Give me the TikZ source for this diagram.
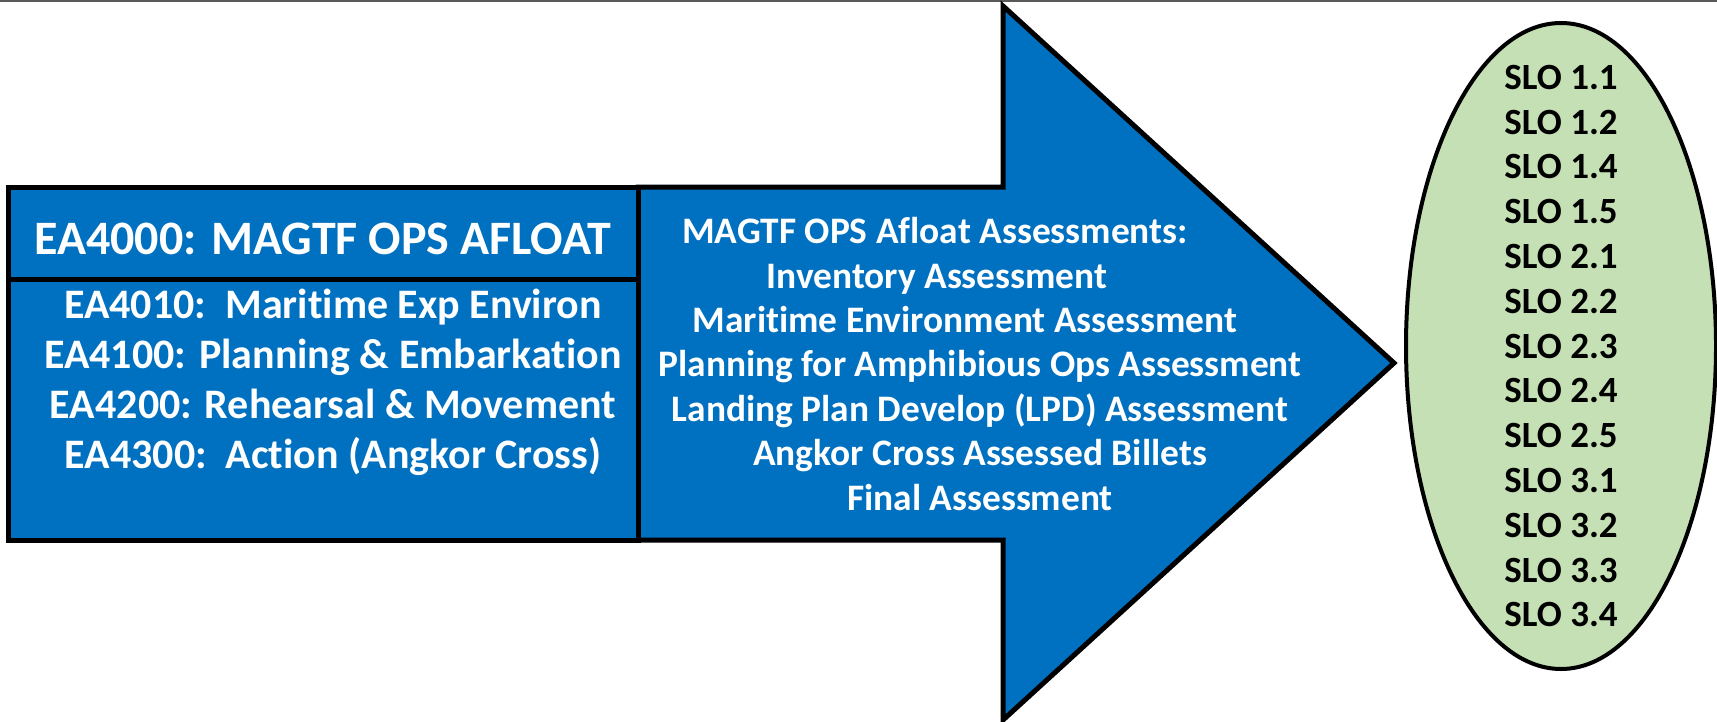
\documentclass[tikz,border=0pt]{standalone}
\usepackage{fontspec}
\setmainfont{Carlito}[Ligatures=NoCommon]
\usetikzlibrary{shapes.geometric}
\definecolor{slideblue}{HTML}{0070C0}
\definecolor{slogreen}{HTML}{C5E0B4}
\tikzset{
	blockframe/.style={draw=black, line width=2.5pt, fill=slideblue, line join=miter},
	whitetext/.style={text=white, align=center, inner sep=0pt},
}
\newcommand{\padright}[2]{\makebox[\dimexpr\width+#1\relax][l]{#2}}

\begin{document}
\begin{tikzpicture}[x=0.5pt, y=-0.5pt]
	\useasboundingbox (0, 0) rectangle (1717, 722);
	\draw[gray!70!black, line width=1pt] (0, 1) -- (1717, 1);
	% big arrow
	\draw[blockframe] (638, 187) -- (1003, 187) -- (1003, 6) -- (1394, 363) -- (1003, 720) -- (1003, 540) -- (638, 540) -- cycle;
	% course box
	\draw[blockframe] (8, 279) rectangle (638, 540);
	\draw[blockframe] (8, 187) rectangle (638, 279);
	\node[whitetext, font=\bfseries\fontsize{24}{28}\selectfont] (course) at (323, 239) {EA4000: MAGTF OPS AFLOAT};
	\node[whitetext, font=\bfseries\fontsize{21}{25}\selectfont] (units) at (333, 382) {EA4010:\ \ Maritime Exp Environ\\EA4100: Planning \& Embarkation\\EA4200: Rehearsal \& Movement\\EA4300:\ \ Action (Angkor Cross)};
	\node[whitetext, font=\bfseries\fontsize{18.7}{22.2}\selectfont] (assess) at (980, 364) {\padright{45pt}{MAGTF OPS Afloat Assessments:}\\\padright{43pt}{Inventory Assessment}\\\padright{15pt}{Maritime Environment Assessment}\\Planning for Amphibious Ops Assessment\\Landing Plan Develop (LPD) Assessment\\Angkor Cross Assessed Billets\\Final Assessment};
	% outcomes
	\node[ellipse, draw=black, line width=2pt, fill=slogreen, minimum width=155pt, minimum height=323pt, inner sep=0pt] (slo) at (1561, 346) {};
	\node[align=center, inner sep=0pt, font=\bfseries\fontsize{18.5}{22.4}\selectfont] (slolist) at (slo.center) {SLO 1.1\\SLO 1.2\\SLO 1.4\\SLO 1.5\\SLO 2.1\\SLO 2.2\\SLO 2.3\\SLO 2.4\\SLO 2.5\\SLO 3.1\\SLO 3.2\\SLO 3.3\\SLO 3.4};
\end{tikzpicture}
\end{document}
